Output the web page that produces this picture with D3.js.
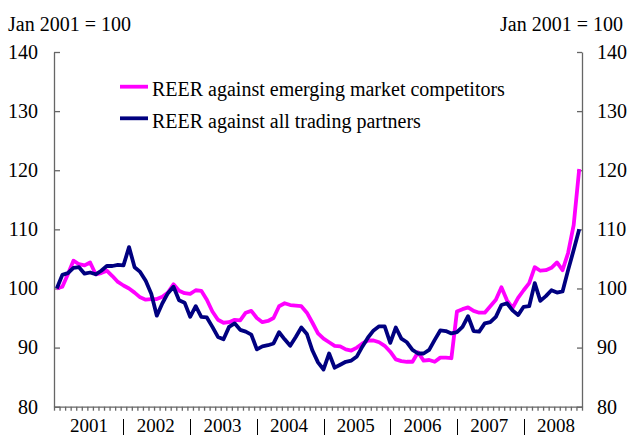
<!DOCTYPE html>
<html>
<head>
<meta charset="utf-8">
<script src="https://cdn.jsdelivr.net/npm/d3@7"></script>
<style>
  body { margin: 0; background: #fff; }
  svg text { font-family: "Liberation Serif", "Times New Roman", serif; fill: #000; }
</style>
</head>
<body>
<div id="chart"></div>
<script>
// monthly, Jan 2001 .. Nov 2008 (Jan 2001 = 100)
var years = ['2001', '2002', '2003', '2004', '2005', '2006', '2007', '2008'];
var yTicks = [80, 90, 100, 110, 120, 130, 140];

var reerEmerging = [
  100.0, 100.3, 102.4, 104.7, 104.1, 103.9, 104.4, 102.4, 102.6, 103.0, 102.1, 101.1,
  100.5, 100.0, 99.3, 98.5, 98.1, 98.2, 98.2, 98.6, 99.3, 100.7, 99.6, 99.2,
  99.1, 99.7, 99.6, 98.1, 96.1, 94.7, 94.2, 94.3, 94.7, 94.6, 95.9, 96.2,
  95.0, 94.3, 94.5, 95.0, 97.0, 97.5, 97.2, 97.1, 97.0, 95.9, 94.2, 92.4,
  91.5, 90.9, 90.3, 90.2, 89.7, 89.5, 90.0, 90.7, 91.2, 91.2, 90.9, 90.3,
  89.3, 88.0, 87.7, 87.6, 87.6, 89.2, 87.8, 87.9, 87.6, 88.3, 88.3, 88.2,
  96.1, 96.5, 96.8, 96.2, 95.9, 95.9, 97.0, 98.1, 100.2, 98.0, 96.7, 98.4,
  99.7, 100.9, 103.6, 103.0, 103.1, 103.5, 104.4, 103.1, 106.0, 110.7, 120.2
];
var reerAll = [
  100.0, 102.3, 102.6, 103.5, 103.6, 102.5, 102.7, 102.4, 103.0, 103.8, 103.8, 104.0,
  103.9, 107.0, 103.6, 102.8, 101.3, 99.1, 95.4, 97.5, 99.2, 100.3, 98.0, 97.6,
  95.2, 97.0, 95.2, 95.1, 93.5, 91.8, 91.4, 93.5, 94.1, 93.0, 92.7, 92.2,
  89.7, 90.2, 90.4, 90.7, 92.6, 91.4, 90.3, 91.8, 93.4, 92.3, 89.5, 87.5,
  86.3, 89.0, 86.6, 87.1, 87.6, 87.8, 88.5, 90.2, 91.7, 92.9, 93.6, 93.6,
  90.8, 93.4, 91.5, 90.9, 89.6, 89.0, 89.0, 89.6, 91.3, 92.9, 92.8, 92.4,
  92.6, 93.5, 95.3, 92.8, 92.7, 94.1, 94.3, 95.2, 97.2, 97.5, 96.3, 95.5,
  96.9, 97.0, 100.9, 97.9, 98.7, 99.7, 99.3, 99.5, 103.1, 106.5, 110.0
];

var series = [
  { name: 'REER against emerging market competitors', values: reerEmerging, color: '#ff00ff' },
  { name: 'REER against all trading partners', values: reerAll, color: '#000080' }
];

function drawChart() {
  var W = 629, H = 437;
  var plotL = 54, plotR = 582, plotT = 52, plotB = 406.7;
  var nMonths = reerAll.length;

  var svg = d3.select('#chart').append('svg').attr('width', W).attr('height', H);

  var x = d3.scaleLinear().domain([0, nMonths]).range([plotL, plotR]);
  var y = d3.scaleLinear().domain([80, 140]).range([plotB, plotT]);

  var axisCol = '#666';

  // left axis
  var gl = svg.append('g').attr('transform', 'translate(' + plotL + ',0)')
    .call(d3.axisLeft(y).tickValues(yTicks).tickSizeInner(-6).tickSizeOuter(0).tickPadding(16));
  // right axis
  var gr = svg.append('g').attr('transform', 'translate(' + plotR + ',0)')
    .call(d3.axisRight(y).tickValues(yTicks).tickSizeInner(-5).tickSizeOuter(0).tickPadding(15));
  // bottom axis, one tick per month
  var gb = svg.append('g').attr('transform', 'translate(0,' + plotB + ')')
    .call(d3.axisBottom(x).tickValues(d3.range(0, nMonths + 1)).tickSize(4).tickSizeOuter(0).tickFormat(''));

  [gl, gr, gb].forEach(function(g) {
    g.selectAll('path, line').attr('stroke', axisCol).attr('stroke-width', 1.3);
    g.selectAll('text').style('font-size', '20px').attr('fill', '#000');
  });

  // year labels with separators
  svg.selectAll('.yr').data(years).enter().append('text')
    .attr('class', 'yr')
    .attr('x', function(d, i) { return x(12 * i + 6.3); })
    .attr('y', 432)
    .attr('text-anchor', 'middle')
    .style('font-size', '19px')
    .text(function(d) { return d; });
  svg.selectAll('.sep').data(years.slice(1)).enter().append('line')
    .attr('class', 'sep')
    .attr('x1', function(d, i) { return Math.round(x(12 * (i + 1) + 0.5)) + 0.5; })
    .attr('x2', function(d, i) { return Math.round(x(12 * (i + 1) + 0.5)) + 0.5; })
    .attr('y1', 419).attr('y2', 435)
    .attr('stroke', '#000').attr('stroke-width', 1);

  // units
  svg.append('text').attr('x', 8).attr('y', 31).style('font-size', '20px').text('Jan 2001 = 100');
  svg.append('text').attr('x', 623).attr('y', 31).attr('text-anchor', 'end').style('font-size', '20px').text('Jan 2001 = 100');

  // lines
  var line = d3.line()
    .x(function(d, i) { return x(i + 0.5); })
    .y(function(d) { return y(d); });

  svg.selectAll('.series').data(series).enter().append('path')
    .attr('class', 'series')
    .attr('d', function(s) { return line(s.values); })
    .attr('fill', 'none')
    .attr('stroke', function(s) { return s.color; })
    .attr('stroke-width', 3.8)
    .attr('stroke-linejoin', 'round');

  // legend
  var leg = svg.selectAll('.leg').data(series).enter().append('g')
    .attr('class', 'leg')
    .attr('transform', function(d, i) { return 'translate(120,' + (86.7 + i * 31.6) + ')'; });
  leg.append('line').attr('x1', 0).attr('x2', 28).attr('y1', 0).attr('y2', 0)
    .attr('stroke', function(d) { return d.color; }).attr('stroke-width', 3.8);
  leg.append('text').attr('x', 32).attr('y', 9.3).style('font-size', '20px')
    .text(function(d) { return d.name; });
}

drawChart();
</script>
</body>
</html>
